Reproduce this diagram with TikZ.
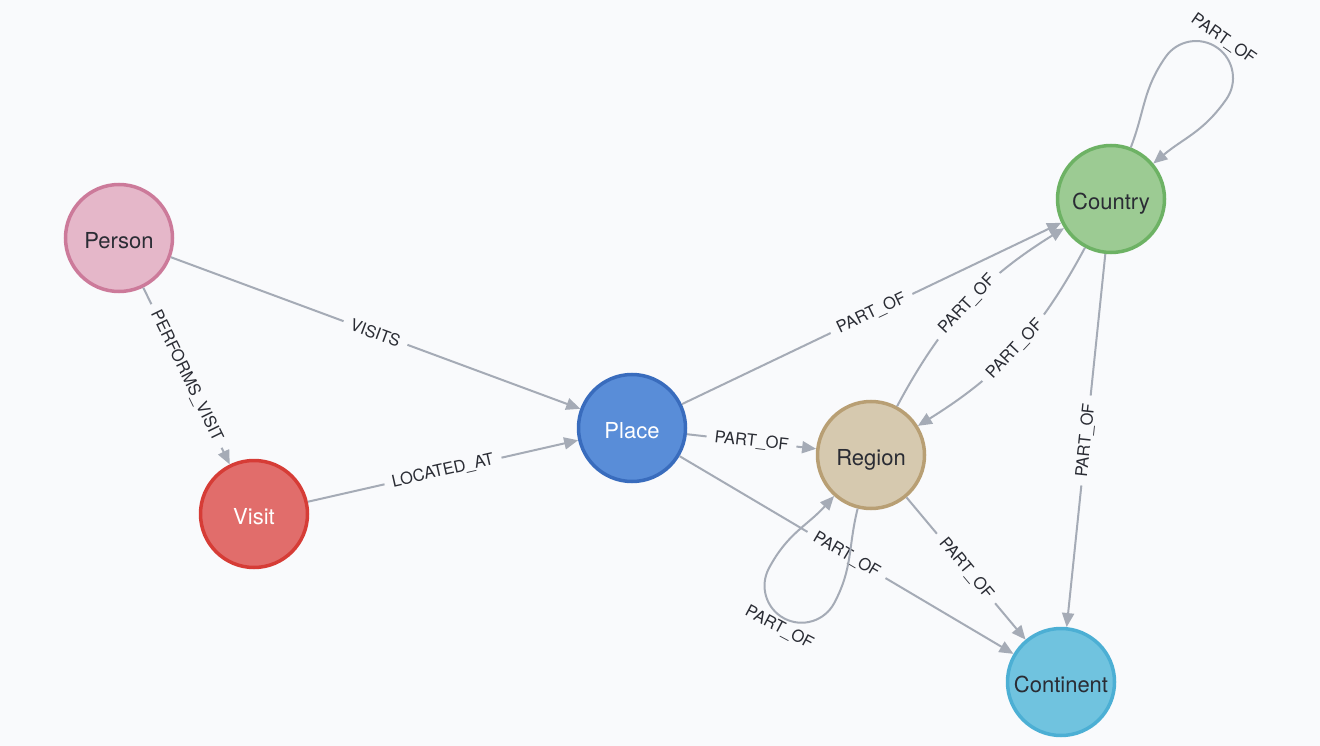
\documentclass[tikz,border=0pt]{standalone}
\usepackage{fontspec}
\setmainfont{TeX Gyre Heros}
\usetikzlibrary{arrows.meta}
\definecolor{bg}{HTML}{F9FAFC}
\definecolor{relc}{HTML}{A5ABB6}
\definecolor{txt}{HTML}{2A2C34}
\definecolor{personfill}{HTML}{E5B7C9}
\definecolor{persondraw}{HTML}{CC7A9A}
\definecolor{visitfill}{HTML}{E16D6B}
\definecolor{visitdraw}{HTML}{D63C36}
\definecolor{placefill}{HTML}{598DD8}
\definecolor{placedraw}{HTML}{396CBD}
\definecolor{regionfill}{HTML}{D6C9AF}
\definecolor{regiondraw}{HTML}{B89F74}
\definecolor{countryfill}{HTML}{9CCB93}
\definecolor{countrydraw}{HTML}{6DB264}
\definecolor{contfill}{HTML}{70C3DF}
\definecolor{contdraw}{HTML}{4CAFD4}
\begin{document}
\begin{tikzpicture}[x=1pt,y=1pt,
    entity/.style={circle, minimum size=107pt, inner sep=0pt, line width=3.5pt,
        text height=21pt, text depth=0pt, font=\fontsize{22}{26}\selectfont, text=txt},
    rel/.style={draw=relc, line width=2pt, -{Triangle[length=14pt,width=12pt]}},
    looplbl/.style={inner sep=2pt, font=\fontsize{16.5}{19}\selectfont, text=txt},
    lbl/.style={looplbl, fill=bg, inner xsep=8pt, sloped}]
    \fill[bg] (0,0) rectangle (1320,-746);
    \useasboundingbox (0,0) rectangle (1320,-746);

    \node[entity, fill=personfill, draw=persondraw] (person) at (119,-238) {Person};
    \node[entity, fill=visitfill, draw=visitdraw, text=white] (visit) at (254,-514) {Visit};
    \node[entity, fill=placefill, draw=placedraw, text=white] (place) at (632,-428) {Place};
    \node[entity, fill=regionfill, draw=regiondraw] (region) at (871,-455) {Region};
    \node[entity, fill=countryfill, draw=countrydraw] (country) at (1111,-199) {Country};
    \node[entity, fill=contfill, draw=contdraw] (continent) at (1061,-682) {Continent};

    \draw[rel] (person) -- node[lbl] {PERFORMS\_VISIT} (visit);
    \draw[rel] (person) -- node[lbl] {VISITS} (place);
    \draw[rel] (visit) -- node[lbl] {LOCATED\_AT} (place);
    \draw[rel] (place) -- node[lbl] {PART\_OF} (region);
    \draw[rel] (place) -- node[lbl] {PART\_OF} (country);
    \draw[rel] (place) -- node[lbl] {PART\_OF} (continent);
    \draw[rel] (region) to[bend left=15] node[lbl] {PART\_OF} (country);
    \draw[rel] (country) to[bend left=15] node[lbl] {PART\_OF} (region);
    \draw[rel] (region) -- node[lbl] {PART\_OF} (continent);
    \draw[rel] (country) -- node[lbl] {PART\_OF} (continent);
    \draw[rel] (region.256) .. controls +(256:40) and +(62:40) .. (834.2,-603.1)
        arc[start angle=332, end angle=242, radius=37]
        node[looplbl, anchor=north, rotate=-28] {PART\_OF}
        arc[start angle=242, end angle=152, radius=37]
        .. controls +(62:40) and +(228:40) .. (region.228);
    \draw[rel] (country.69) .. controls +(69:40) and +(235:40) .. (1165.7,-56.8)
        arc[start angle=145, end angle=55, radius=37]
        node[looplbl, anchor=south, rotate=-35] {PART\_OF}
        arc[start angle=55, end angle=-35, radius=37]
        .. controls +(235:40) and +(40:40) .. (country.40);
\end{tikzpicture}
\end{document}
